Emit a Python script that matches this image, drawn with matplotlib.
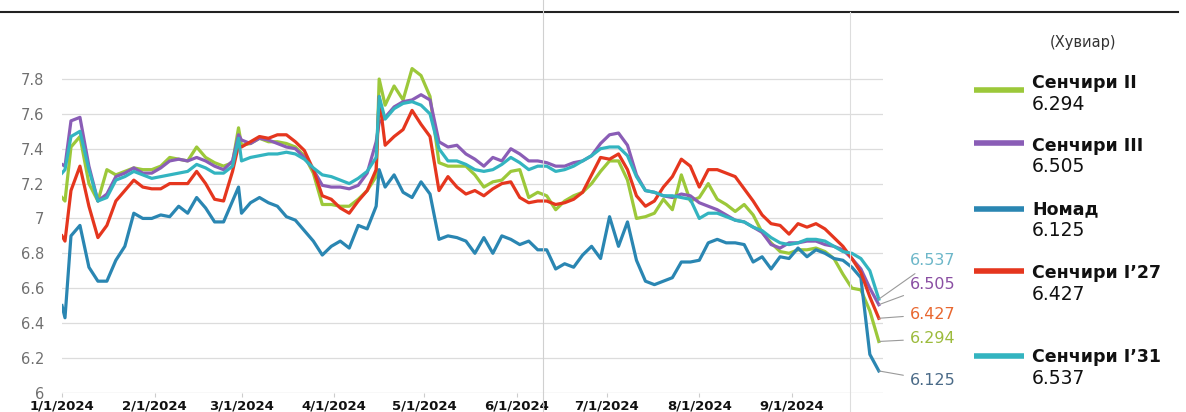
import pandas as pd
import matplotlib
matplotlib.use('Agg')
import matplotlib.pyplot as plt
from matplotlib.lines import Line2D

# day offsets from 1/1/2024 (read roughly every 3 days off the chart)
days = [0, 1, 3, 6, 9, 12, 15, 18, 21, 24, 27, 30, 33, 36, 39, 42, 45, 48, 51, 54,
        57, 59, 60, 63, 66, 69, 72, 75, 78, 81, 84, 87, 90, 93, 96, 99, 102, 105, 106,
        108, 111, 114, 117, 120, 123, 126, 129, 132, 135, 138, 141, 144, 147, 150, 153,
        156, 159, 162, 165, 168, 171, 174, 177, 180, 183, 186, 189, 192, 195, 198, 201,
        204, 207, 210, 213, 216, 219, 222, 225, 228, 231, 234, 237, 240, 243, 246, 249,
        252, 255, 258, 261, 264, 267, 270, 273]

nomad = [6.50, 6.43, 6.90, 6.96, 6.72, 6.64, 6.64, 6.76, 6.84, 7.03, 7.00, 7.00, 7.02, 7.01, 7.07, 7.03, 7.12, 7.06, 6.98, 6.98,
         7.10, 7.18, 7.03, 7.09, 7.12, 7.09, 7.07, 7.01, 6.99, 6.93, 6.87, 6.79, 6.84, 6.87, 6.83, 6.96, 6.94, 7.07, 7.28,
         7.18, 7.25, 7.15, 7.12, 7.21, 7.14, 6.88, 6.90, 6.89, 6.87, 6.80, 6.89, 6.80, 6.90, 6.88, 6.85,
         6.87, 6.82, 6.82, 6.71, 6.74, 6.72, 6.79, 6.84, 6.77, 7.01, 6.84, 6.98, 6.76, 6.64, 6.62, 6.64,
         6.66, 6.75, 6.75, 6.76, 6.86, 6.88, 6.86, 6.86, 6.85, 6.75, 6.78, 6.71, 6.78, 6.77, 6.83, 6.78,
         6.82, 6.80, 6.77, 6.76, 6.72, 6.66, 6.22, 6.125]

s27 = [6.90, 6.87, 7.16, 7.30, 7.07, 6.89, 6.96, 7.10, 7.16, 7.22, 7.18, 7.17, 7.17, 7.20, 7.20, 7.20, 7.27, 7.20, 7.11, 7.10,
       7.27, 7.42, 7.41, 7.44, 7.47, 7.46, 7.48, 7.48, 7.44, 7.39, 7.28, 7.13, 7.11, 7.06, 7.03, 7.10, 7.16, 7.28, 7.70,
       7.42, 7.47, 7.51, 7.62, 7.54, 7.47, 7.16, 7.24, 7.18, 7.14, 7.16, 7.13, 7.17, 7.20, 7.21, 7.12,
       7.09, 7.10, 7.10, 7.08, 7.09, 7.11, 7.15, 7.25, 7.35, 7.34, 7.37, 7.28, 7.13, 7.07, 7.10, 7.18,
       7.24, 7.34, 7.30, 7.18, 7.28, 7.28, 7.26, 7.24, 7.17, 7.10, 7.02, 6.97, 6.96, 6.91, 6.97, 6.95,
       6.97, 6.94, 6.89, 6.84, 6.77, 6.69, 6.55, 6.427]

s2 = [7.12, 7.10, 7.41, 7.47, 7.20, 7.10, 7.28, 7.25, 7.27, 7.29, 7.28, 7.28, 7.30, 7.35, 7.34, 7.33, 7.41, 7.35, 7.32, 7.30,
      7.32, 7.52, 7.42, 7.43, 7.46, 7.44, 7.44, 7.43, 7.41, 7.36, 7.26, 7.08, 7.08, 7.07, 7.07, 7.11, 7.16, 7.24, 7.80,
      7.65, 7.76, 7.68, 7.86, 7.82, 7.70, 7.32, 7.30, 7.30, 7.30, 7.25, 7.18, 7.21, 7.22, 7.27, 7.28,
      7.12, 7.15, 7.13, 7.05, 7.10, 7.13, 7.15, 7.20, 7.27, 7.33, 7.33, 7.22, 7.00, 7.01, 7.03, 7.11,
      7.05, 7.25, 7.10, 7.12, 7.20, 7.11, 7.08, 7.04, 7.08, 7.02, 6.92, 6.86, 6.81, 6.80, 6.82, 6.82,
      6.83, 6.81, 6.77, 6.68, 6.60, 6.59, 6.47, 6.294]

s3 = [7.31, 7.30, 7.56, 7.58, 7.30, 7.10, 7.14, 7.24, 7.26, 7.29, 7.26, 7.26, 7.29, 7.33, 7.34, 7.33, 7.35, 7.33, 7.30, 7.28,
      7.33, 7.48, 7.45, 7.43, 7.46, 7.45, 7.43, 7.41, 7.40, 7.35, 7.28, 7.19, 7.18, 7.18, 7.17, 7.19, 7.26, 7.44, 7.55,
      7.58, 7.64, 7.67, 7.68, 7.71, 7.68, 7.44, 7.41, 7.42, 7.37, 7.34, 7.30, 7.35, 7.33, 7.40, 7.37,
      7.33, 7.33, 7.32, 7.30, 7.30, 7.32, 7.33, 7.36, 7.43, 7.48, 7.49, 7.42, 7.25, 7.16, 7.15, 7.13,
      7.12, 7.14, 7.13, 7.09, 7.07, 7.05, 7.02, 6.99, 6.98, 6.95, 6.92, 6.85, 6.83, 6.86, 6.86, 6.87,
      6.87, 6.85, 6.84, 6.82, 6.77, 6.71, 6.60, 6.505]

s31 = [7.26, 7.28, 7.47, 7.50, 7.28, 7.10, 7.12, 7.22, 7.24, 7.27, 7.25, 7.23, 7.24, 7.25, 7.26, 7.27, 7.31, 7.29, 7.26, 7.26,
       7.30, 7.46, 7.33, 7.35, 7.36, 7.37, 7.37, 7.38, 7.37, 7.34, 7.29, 7.25, 7.24, 7.22, 7.20, 7.23, 7.27, 7.35, 7.70,
       7.57, 7.63, 7.66, 7.67, 7.65, 7.60, 7.40, 7.33, 7.33, 7.31, 7.28, 7.27, 7.28, 7.31, 7.35, 7.32,
       7.28, 7.30, 7.30, 7.27, 7.28, 7.30, 7.33, 7.36, 7.40, 7.41, 7.41, 7.36, 7.24, 7.16, 7.15, 7.13,
       7.13, 7.12, 7.11, 7.00, 7.03, 7.03, 7.01, 6.99, 6.98, 6.95, 6.93, 6.89, 6.86, 6.85, 6.86, 6.88,
       6.88, 6.87, 6.84, 6.81, 6.80, 6.77, 6.70, 6.537]

names = ['Сенчири II', 'Сенчири III', 'Номад', 'Сенчири I’27', 'Сенчири I’31']
series = [s2, s3, nomad, s27, s31]
colors = ['#9cc83a', '#8a5db6', '#2a86b2', '#e5361e', '#33b4c0']
label_colors = ['#9cbb3c', '#8a4fa3', '#4b6b88', '#e8672f', '#6db7c9']

tick_labels = ['1/1/2024', '2/1/2024', '3/1/2024', '4/1/2024', '5/1/2024',
               '6/1/2024', '7/1/2024', '8/1/2024', '9/1/2024']
y_ticks = [6, 6.2, 6.4, 6.6, 6.8, 7, 7.2, 7.4, 7.6, 7.8]

start = pd.Timestamp('2024-01-01')
dates = start + pd.to_timedelta(days, unit='D')
tick_dates = [pd.Timestamp(2024, m, 1) for m in range(1, 10)]

W, H = 1186, 412
fig = plt.figure(figsize=(W / 100, H / 100), dpi=100)
ax = fig.add_axes([62 / W, 1 - 392.7 / H, (883 - 62) / W, (392.7 - 61.6) / H])

for yv in y_ticks:
    ax.axhline(yv, color='#dcdcdc' if yv > 6 else '#c8c8c8', lw=0.9, zorder=0)

# draw order: Nomad, I'27, II, III, I'31
for i in [2, 3, 0, 1, 4]:
    ax.plot(dates, series[i], color=colors[i], lw=2.3, zorder=2 + i * 0.1,
            solid_joinstyle='round')

ax.set_ylim(6, 7.9)
ax.set_xlim(start, start + pd.Timedelta(days=274.4))
ax.set_yticks(y_ticks)
ax.set_yticklabels([('%g' % v) for v in y_ticks], color='#707070', fontsize=10.5)
ax.set_xticks(tick_dates)
ax.set_xticklabels(tick_labels, fontsize=9.5, fontweight='bold', color='#111111')
ax.tick_params(axis='y', length=0, pad=13)
ax.tick_params(axis='x', length=3, color='#cccccc', pad=2)
for sp in ax.spines.values():
    sp.set_visible(False)

# end-of-line value labels
label_y = [6.31, 6.62, 6.07, 6.45, 6.756]
label_x = start + pd.Timedelta(days=283.5)
for i in range(5):
    ax.annotate('%.3f' % series[i][-1], xy=(dates[-1], series[i][-1]),
                xytext=(label_x, label_y[i]), textcoords='data',
                ha='left', va='center', fontsize=11.5, color=label_colors[i],
                annotation_clip=False,
                arrowprops=dict(arrowstyle='-', color='#9a9a9a', lw=0.8,
                                shrinkA=3, shrinkB=0))

# right-hand legend
fig.text(1083 / W, 1 - 42 / H, '(Хувиар)', ha='center', va='center',
         fontsize=10.5, color='#333333')
name_y = [83, 146, 209, 273, 357]
swatch_y = [90, 143, 209, 271, 356]
for i in range(5):
    fig.add_artist(Line2D([974 / W, 1024 / W], [1 - swatch_y[i] / H] * 2,
                          color=colors[i], lw=4, solid_capstyle='butt'))
    fig.text(1032 / W, 1 - name_y[i] / H, names[i], ha='left', va='center',
             fontsize=12.5, fontweight='bold', color='#111111')
    fig.text(1032 / W, 1 - (name_y[i] + 21) / H, '%.3f' % series[i][-1],
             ha='left', va='center', fontsize=13.5, color='#111111')

# page decorations from the source document
fig.add_artist(Line2D([0, 1178 / W], [1 - 12 / H] * 2, color='#222222', lw=1.5))
fig.add_artist(Line2D([543 / W] * 2, [0, 1], color='#d0d0d0', lw=0.8))
fig.add_artist(Line2D([850 / W] * 2, [0, 1 - 12 / H], color='#dddddd', lw=0.8))

fig.savefig('out.png', dpi=100, facecolor='white')
